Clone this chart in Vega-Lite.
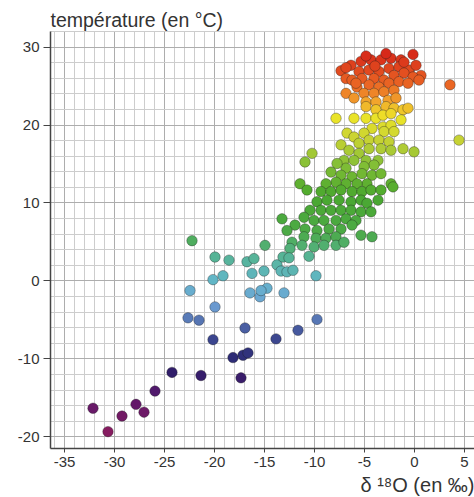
{
  "$schema": "https://vega.github.io/schema/vega-lite/v6.json",
  "width": 424,
  "height": 417,
  "autosize": {"type": "none"},
  "padding": {"left": 50, "top": 31, "right": 0, "bottom": 49},
  "background": "white",
  "config": {"view": {"stroke": null}, "font": "Liberation Sans"},
  "data": {
    "values": [
      {"d18O": -0.1, "temp": 29.0}, {"d18O": -7.3, "temp": 26.9}, {"d18O": -6.3, "temp": 27.6}, {"d18O": -5.3, "temp": 28.1},
      {"d18O": -4.3, "temp": 28.3}, {"d18O": -3.3, "temp": 28.3}, {"d18O": -2.3, "temp": 28.5}, {"d18O": -1.3, "temp": 28.3},
      {"d18O": -6.8, "temp": 25.9}, {"d18O": -5.5, "temp": 26.8}, {"d18O": -4.5, "temp": 27.0}, {"d18O": -3.5, "temp": 26.8},
      {"d18O": -2.5, "temp": 27.2}, {"d18O": -1.5, "temp": 27.4}, {"d18O": -0.5, "temp": 27.0}, {"d18O": 0.7, "temp": 26.3},
      {"d18O": -6.2, "temp": 25.7}, {"d18O": -5.2, "temp": 25.9}, {"d18O": -4.0, "temp": 25.9}, {"d18O": -3.0, "temp": 25.7},
      {"d18O": -2.0, "temp": 26.3}, {"d18O": -1.0, "temp": 26.6}, {"d18O": -0.1, "temp": 26.1}, {"d18O": 0.5, "temp": 25.7},
      {"d18O": -5.7, "temp": 24.8}, {"d18O": -4.5, "temp": 25.1}, {"d18O": -3.5, "temp": 24.8}, {"d18O": -2.5, "temp": 25.3},
      {"d18O": -1.5, "temp": 25.5}, {"d18O": -0.6, "temp": 25.3}, {"d18O": -6.8, "temp": 24.0}, {"d18O": -6.0, "temp": 23.4},
      {"d18O": -5.0, "temp": 24.0}, {"d18O": -4.0, "temp": 24.0}, {"d18O": -3.0, "temp": 24.2}, {"d18O": -2.0, "temp": 24.4},
      {"d18O": -4.8, "temp": 22.9}, {"d18O": -3.8, "temp": 22.9}, {"d18O": -2.6, "temp": 23.1}, {"d18O": -1.8, "temp": 23.4},
      {"d18O": 3.6, "temp": 25.1}, {"d18O": -4.8, "temp": 28.8}, {"d18O": -2.8, "temp": 29.1}, {"d18O": -6.8, "temp": 27.3},
      {"d18O": -1.0, "temp": 28.0}, {"d18O": 0.2, "temp": 27.6}, {"d18O": -5.8, "temp": 25.3}, {"d18O": -3.9, "temp": 27.5},

      {"d18O": -4.8, "temp": 22.3}, {"d18O": -3.8, "temp": 21.9}, {"d18O": -2.8, "temp": 22.3}, {"d18O": -2.0, "temp": 22.1},
      {"d18O": -1.1, "temp": 21.9}, {"d18O": -0.6, "temp": 22.1}, {"d18O": -7.8, "temp": 20.8}, {"d18O": -6.0, "temp": 20.8},
      {"d18O": -4.8, "temp": 20.8}, {"d18O": -3.8, "temp": 20.8}, {"d18O": -3.1, "temp": 21.2}, {"d18O": -2.3, "temp": 21.4},
      {"d18O": -1.3, "temp": 20.6}, {"d18O": -4.2, "temp": 19.5}, {"d18O": -3.1, "temp": 19.7}, {"d18O": -2.3, "temp": 19.9},
      {"d18O": -3.0, "temp": 19.1}, {"d18O": -2.0, "temp": 19.1}, {"d18O": -6.7, "temp": 18.9}, {"d18O": -6.0, "temp": 18.4},
      {"d18O": -5.0, "temp": 18.9}, {"d18O": -7.3, "temp": 17.4}, {"d18O": -6.5, "temp": 16.7}, {"d18O": -5.5, "temp": 17.6},
      {"d18O": -4.5, "temp": 18.0}, {"d18O": -3.5, "temp": 18.0}, {"d18O": -2.5, "temp": 17.8}, {"d18O": -4.5, "temp": 16.9},
      {"d18O": -3.3, "temp": 16.9}, {"d18O": -2.3, "temp": 16.7}, {"d18O": -1.1, "temp": 16.9}, {"d18O": 0.0, "temp": 16.5},
      {"d18O": -5.5, "temp": 16.3}, {"d18O": -10.2, "temp": 16.3}, {"d18O": -10.9, "temp": 15.2}, {"d18O": -7.0, "temp": 15.4},
      {"d18O": -6.0, "temp": 15.4}, {"d18O": -4.8, "temp": 15.4}, {"d18O": -3.6, "temp": 15.4}, {"d18O": 4.5, "temp": 18.0},

      {"d18O": -4.0, "temp": 14.8}, {"d18O": -5.0, "temp": 14.6}, {"d18O": -6.8, "temp": 14.4}, {"d18O": -7.7, "temp": 15.0},
      {"d18O": -8.3, "temp": 13.9}, {"d18O": -7.3, "temp": 13.5}, {"d18O": -6.2, "temp": 13.3}, {"d18O": -5.2, "temp": 13.7},
      {"d18O": -4.2, "temp": 13.5}, {"d18O": -3.3, "temp": 13.7}, {"d18O": -2.3, "temp": 12.4}, {"d18O": -4.7, "temp": 12.4},
      {"d18O": -5.7, "temp": 12.4}, {"d18O": -6.8, "temp": 12.4}, {"d18O": -7.8, "temp": 12.6}, {"d18O": -8.8, "temp": 12.4},
      {"d18O": -11.4, "temp": 12.4}, {"d18O": -10.7, "temp": 11.6}, {"d18O": -9.3, "temp": 11.4}, {"d18O": -8.3, "temp": 11.4},
      {"d18O": -7.3, "temp": 11.6}, {"d18O": -6.2, "temp": 11.4}, {"d18O": -5.2, "temp": 11.4}, {"d18O": -4.3, "temp": 11.6},
      {"d18O": -3.3, "temp": 11.6}, {"d18O": -2.1, "temp": 12.0}, {"d18O": -9.7, "temp": 10.1}, {"d18O": -8.7, "temp": 10.3},
      {"d18O": -7.5, "temp": 10.3}, {"d18O": -6.3, "temp": 10.1}, {"d18O": -5.3, "temp": 10.3}, {"d18O": -4.7, "temp": 9.9},
      {"d18O": -3.6, "temp": 10.3}, {"d18O": -10.4, "temp": 9.0}, {"d18O": -9.3, "temp": 9.0}, {"d18O": -8.3, "temp": 9.0},
      {"d18O": -7.3, "temp": 9.0}, {"d18O": -6.3, "temp": 9.0}, {"d18O": -5.3, "temp": 8.8}, {"d18O": -4.3, "temp": 8.8},
      {"d18O": -11.0, "temp": 8.1}, {"d18O": -10.0, "temp": 7.7}, {"d18O": -9.0, "temp": 7.7}, {"d18O": -7.8, "temp": 7.7},
      {"d18O": -6.8, "temp": 7.9}, {"d18O": -5.8, "temp": 7.7}, {"d18O": -13.2, "temp": 7.9}, {"d18O": -11.9, "temp": 7.1},
      {"d18O": -10.9, "temp": 6.6}, {"d18O": -9.7, "temp": 6.4}, {"d18O": -8.5, "temp": 6.6}, {"d18O": -7.3, "temp": 6.6},
      {"d18O": -6.2, "temp": 7.1}, {"d18O": -5.3, "temp": 5.8}, {"d18O": -12.7, "temp": 6.4}, {"d18O": -11.0, "temp": 5.6},
      {"d18O": -9.8, "temp": 5.4}, {"d18O": -8.8, "temp": 5.4}, {"d18O": -7.8, "temp": 5.6}, {"d18O": -12.2, "temp": 4.9},
      {"d18O": -11.2, "temp": 4.5}, {"d18O": -10.0, "temp": 4.3}, {"d18O": -9.0, "temp": 4.5}, {"d18O": -7.8, "temp": 4.5},
      {"d18O": -7.0, "temp": 4.9}, {"d18O": -4.2, "temp": 5.6}, {"d18O": -12.4, "temp": 4.1},

      {"d18O": -22.2, "temp": 5.1}, {"d18O": -14.9, "temp": 4.5}, {"d18O": -19.9, "temp": 3.0}, {"d18O": -18.5, "temp": 2.6},
      {"d18O": -16.7, "temp": 2.4}, {"d18O": -16.0, "temp": 2.8}, {"d18O": -20.1, "temp": 0.1}, {"d18O": -19.1, "temp": 0.6},
      {"d18O": -16.2, "temp": 0.9}, {"d18O": -15.0, "temp": 1.2}, {"d18O": -13.7, "temp": 2.0}, {"d18O": -13.3, "temp": 1.2},
      {"d18O": -12.7, "temp": 1.1}, {"d18O": -12.1, "temp": 1.3}, {"d18O": -13.1, "temp": 3.0}, {"d18O": -12.5, "temp": 2.9},
      {"d18O": -10.5, "temp": 3.1}, {"d18O": -9.8, "temp": 0.6}, {"d18O": -22.4, "temp": -1.3}, {"d18O": -16.4, "temp": -1.6},
      {"d18O": -15.4, "temp": -2.1}, {"d18O": -14.7, "temp": -1.0}, {"d18O": -15.3, "temp": -1.3}, {"d18O": -13.0, "temp": -1.6},
      {"d18O": -19.9, "temp": -3.4}, {"d18O": -22.6, "temp": -4.8}, {"d18O": -21.5, "temp": -5.1}, {"d18O": -16.9, "temp": -6.1},
      {"d18O": -9.7, "temp": -5.0}, {"d18O": -11.6, "temp": -6.4}, {"d18O": -13.8, "temp": -7.5}, {"d18O": -20.1, "temp": -7.6},
      {"d18O": -18.1, "temp": -9.9}, {"d18O": -17.1, "temp": -9.6}, {"d18O": -16.6, "temp": -9.3}, {"d18O": -17.3, "temp": -12.5},
      {"d18O": -21.3, "temp": -12.2}, {"d18O": -24.2, "temp": -11.8}, {"d18O": -25.9, "temp": -14.2}, {"d18O": -27.8, "temp": -15.9},
      {"d18O": -27.0, "temp": -16.9}, {"d18O": -29.2, "temp": -17.4}, {"d18O": -32.1, "temp": -16.4}, {"d18O": -30.6, "temp": -19.4}
    ]
  },
  "mark": {"type": "circle", "size": 110, "opacity": 1, "stroke": "#1e1e1e", "strokeOpacity": 0.35, "strokeWidth": 1},
  "encoding": {
    "x": {
      "field": "d18O",
      "type": "quantitative",
      "scale": {"domain": [-36.4, 6], "nice": false, "zero": false},
      "axis": {
        "values": [-36, -35, -34, -33, -32, -31, -30, -29, -28, -27, -26, -25, -24, -23, -22, -21, -20, -19, -18, -17, -16, -15, -14, -13, -12, -11, -10, -9, -8, -7, -6, -5, -4, -3, -2, -1, 0, 1, 2, 3, 4, 5],
        "grid": true,
        "gridColor": {"condition": {"test": "datum.value % 5 === 0", "value": "#adadad"}, "value": "#cdcdcd"},
        "gridWidth": 1,
        "tickSize": 4,
        "tickColor": "#444444",
        "tickOpacity": {"condition": {"test": "datum.value % 5 === 0", "value": 1}, "value": 0},
        "labelExpr": "datum.value % 5 === 0 ? '' + datum.value : ''",
        "labelFontSize": 15,
        "labelColor": "#333333",
        "labelPadding": 2,
        "labelOverlap": false,
        "labelFlush": false,
        "domainColor": "#444444",
        "domainWidth": 1.5,
        "title": "δ ¹⁸O (en ‰)",
        "titleFontSize": 20,
        "titleFontWeight": "normal",
        "titleColor": "#333333",
        "titleX": 424,
        "titleY": 43,
        "titleAlign": "right",
        "titleBaseline": "alphabetic"
      }
    },
    "y": {
      "field": "temp",
      "type": "quantitative",
      "scale": {"domain": [-21.5, 32], "nice": false, "zero": false},
      "axis": {
        "values": [-20, -18, -16, -14, -12, -10, -8, -6, -4, -2, 0, 2, 4, 6, 8, 10, 12, 14, 16, 18, 20, 22, 24, 26, 28, 30, 32],
        "grid": true,
        "gridColor": {"condition": {"test": "datum.value % 10 === 0", "value": "#adadad"}, "value": "#cdcdcd"},
        "gridWidth": 1,
        "tickSize": 7,
        "tickColor": "#444444",
        "tickOpacity": {"condition": {"test": "datum.value % 10 === 0", "value": 1}, "value": 0},
        "labelExpr": "datum.value % 10 === 0 ? '' + datum.value : ''",
        "labelFontSize": 15,
        "labelColor": "#333333",
        "labelPadding": 4,
        "labelOverlap": false,
        "domainColor": "#444444",
        "domainWidth": 1.5,
        "title": "température (en °C)",
        "titleFontSize": 19.5,
        "titleFontWeight": "normal",
        "titleColor": "#333333",
        "titleAngle": 0,
        "titleX": 0,
        "titleY": -5,
        "titleAlign": "left",
        "titleBaseline": "alphabetic"
      }
    },
    "color": {
      "field": "temp",
      "type": "quantitative",
      "scale": {
        "domain": [-20, -15, -11, -7, -3, 0, 3, 6, 11, 15, 18, 21, 23, 25, 28],
        "range": ["#8c1d5e", "#5a176c", "#27206a", "#3f4c94", "#6fa2d6", "#62b6c8", "#56b496", "#4caa48", "#4aa82e", "#86c036", "#c6d234", "#ece428", "#f2a22c", "#ea6824", "#dc3a1c"],
        "interpolate": "rgb"
      },
      "legend": null
    }
  }
}
